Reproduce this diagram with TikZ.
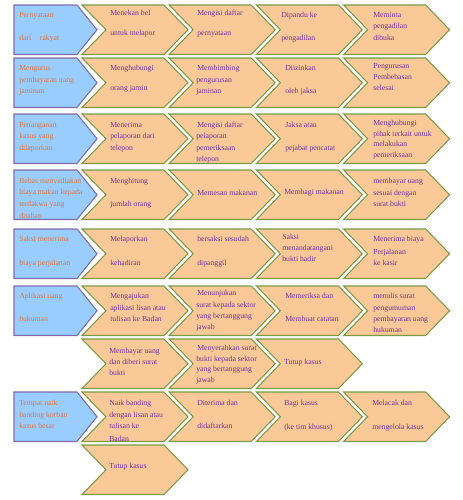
\documentclass[tikz,border=0pt]{standalone}
\usepackage{fontspec}
\setmainfont{Liberation Serif}
\definecolor{bfill}{HTML}{99CCFF}
\definecolor{bline}{HTML}{7F6AAE}
\definecolor{ofill}{HTML}{FBC997}
\definecolor{oline}{HTML}{7A9A45}
\definecolor{btext}{HTML}{E0763A}
\definecolor{ptext}{HTML}{7030A0}
\newcounter{tn}
\tikzset{
  chev/.style={fill=ofill,draw=oline,line width=0.8pt,line join=miter},
  bluebox/.style={fill=bfill,draw=bline,line width=0.8pt,line join=miter},
  txt/.style={anchor=base west,inner sep=0pt,font=\fontsize{5.8pt}{7pt}\selectfont}
}
\newcommand\Tx[4]{\stepcounter{tn}\node[txt,text=#1] (t\arabic{tn}) at (#2,{#3+2.6}) {#4};}
\newcommand\Bl[2]{\Tx{btext}{19}{#1}{#2}}
\newcommand\Pu[3]{\Tx{ptext}{#1}{#2}{#3}}
\newcommand\chev[2]{\draw[chev] (#1,#2) -- ++(82,0) -- ++(24,24.75) -- ++(-24,24.75) -- ++(-82,0) -- ++(24,-24.75) -- cycle;}
\newcommand\bluebx[1]{\draw[bluebox] (14,#1) -- ++(63,0) -- ++(20,24.75) -- ++(-20,24.75) -- ++(-63,0) -- cycle;}
\newcommand\fullrow[1]{\bluebx{#1}\chev{82}{#1}\chev{169.2}{#1}\chev{256.4}{#1}\chev{343.6}{#1}}
\begin{document}
\begin{tikzpicture}[x=0.75pt,y=-0.75pt]
\useasboundingbox (0,0) rectangle (463,500);
% shapes
\fullrow{5}
\fullrow{58}
\fullrow{114}
\fullrow{170}
\fullrow{229}
\fullrow{286}
\chev{82}{339}\chev{169.2}{339}\chev{256.4}{339}
\fullrow{392}
\chev{82}{445}
% row 1
\Bl{15}{Pernyataan}
\Bl{38}{dari\hspace{6.5pt}rakyat}
\Pu{110}{13}{Menekan bel}
\Pu{110}{33}{untuk melapor}
\Pu{197}{13}{Mengisi daftar}
\Pu{197}{33}{pernyataan}
\Pu{281}{15}{Dipandu ke}
\Pu{281}{38}{pengadilan}
\Pu{373}{15}{Meminta}
\Pu{373}{26}{pengadilan}
\Pu{373}{38}{dibuka}
% row 2
\Bl{68}{Mengurus}
\Bl{80}{pembayaran uang}
\Bl{91}{jaminan}
\Pu{110}{68}{Menghubungi}
\Pu{110}{88}{orang jamin}
\Pu{197}{68}{Membimbing}
\Pu{196}{80}{pengurusan}
\Pu{196}{91}{jaminan}
\Pu{285}{68}{Diizinkan}
\Pu{285}{91}{oleh jaksa}
\Pu{373}{66}{Pengurusan}
\Pu{373}{77}{Pembebasan}
\Pu{373}{88}{selesai}
% row 3
\Bl{125}{Penanganan}
\Bl{136}{kasus yang}
\Bl{148}{dilaporkan}
\Pu{110}{125}{Menerima}
\Pu{110}{136}{pelaporan dari}
\Pu{110}{148}{telepon}
\Pu{197}{125}{Mengisi daftar}
\Pu{196}{136}{pelaporan}
\Pu{196}{148}{pemeriksaan}
\Pu{196}{159}{telepon}
\Pu{285}{125}{Jaksa atau}
\Pu{285}{148}{pejabat pencatat}
\Pu{373}{123}{Menghubungi}
\Pu{373}{134}{pihak terkait untuk}
\Pu{373}{144}{melakukan}
\Pu{373}{155}{pemeriksaan}
% row 4
\Bl{181}{Bebas menyediakan}
\Bl{192}{biaya makan kepada}
\Bl{204}{terdakwa yang}
\Bl{216}{ditahan}
\Pu{110}{181}{Menghitung}
\Pu{110}{204}{jumlah orang}
\Pu{197}{193}{Memesan makanan}
\Pu{284}{192}{Membagi makanan}
\Pu{373}{181}{membayar uang}
\Pu{373}{193}{sesuai dengan}
\Pu{373}{204}{surat bukti}
% row 5
\Bl{239}{Saksi menerima}
\Bl{263}{biaya perjalanan}
\Pu{110}{239}{Melaporkan}
\Pu{110}{263}{kehadiran}
\Pu{197}{239}{bersaksi sesudah}
\Pu{197}{263}{dipanggil}
\Pu{282}{237}{Saksi}
\Pu{282}{248}{menandatangani}
\Pu{282}{259}{bukti hadir}
\Pu{373}{239}{Menerima biaya}
\Pu{373}{252}{Perjalanan}
\Pu{373}{263}{ke kasir}
% row 6
\Bl{296}{Aplikasi uang}
\Bl{319}{hukuman}
\Pu{110}{296}{Mengajukan}
\Pu{110}{308}{aplikasi lisan atau}
\Pu{110}{319}{tulisan ke Badan}
\Pu{197}{293}{Menunjukan}
\Pu{196}{305}{surat kepada sektor}
\Pu{196}{316}{yang bertanggung}
\Pu{196}{327}{jawab}
\Pu{285}{296}{Memeriksa dan}
\Pu{285}{319}{Membuat catatan}
\Pu{373}{296}{menulis surat}
\Pu{373}{308}{pengumuman}
\Pu{373}{319}{pembayaran uang}
\Pu{373}{330}{hukuman}
% row 7
\Pu{109}{351}{Membayar uang}
\Pu{109}{362}{dan diberi surat}
\Pu{109}{373}{bukti}
\Pu{197}{348}{Menyerahkan surat}
\Pu{196}{359}{bukti kepada sektor}
\Pu{196}{369}{yang bertanggung}
\Pu{196}{380}{jawab}
\Pu{284}{362}{Tutup kasus}
% row 8
\Bl{403}{Tempat naik}
\Bl{415}{banding korban}
\Bl{426}{kasus besar}
\Pu{109}{403}{Naik banding}
\Pu{109}{415}{dengan lisan atau}
\Pu{109}{426}{tulisan ke}
\Pu{109}{439}{Badan}
\Pu{197}{403}{Diterima dan}
\Pu{197}{426}{didaftarkan}
\Pu{284}{403}{Bagi kasus}
\Pu{284}{427}{(ke tim khusus)}
\Pu{372}{403}{Melacak dan}
\Pu{372}{427}{mengelola kasus}
% row 9
\Pu{109}{466}{Tutup kasus}
\end{tikzpicture}
\end{document}
